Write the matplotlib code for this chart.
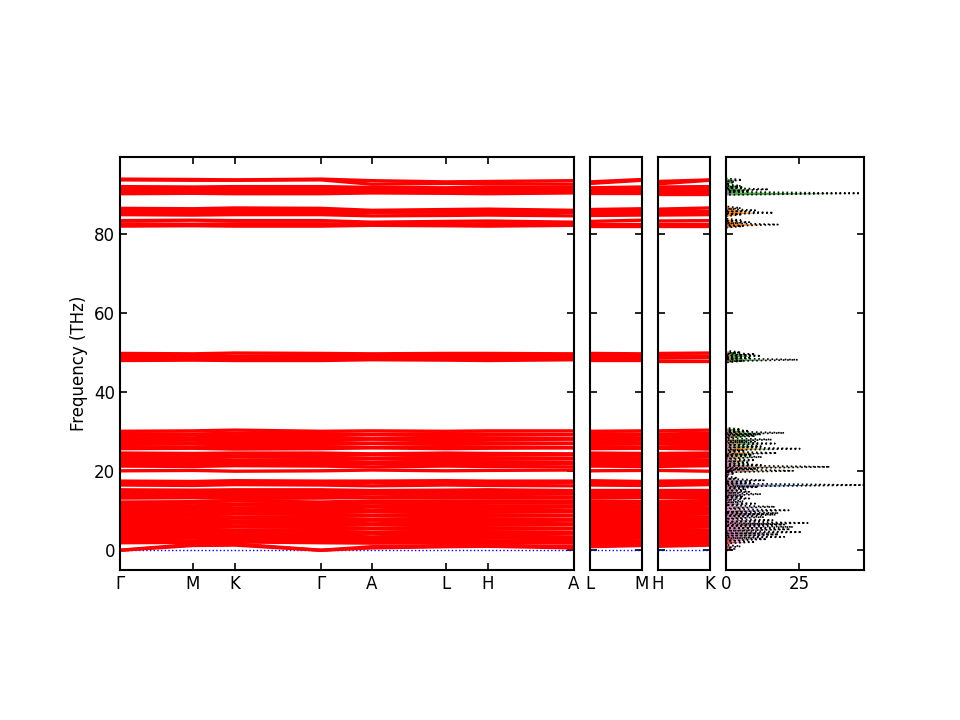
"""
Phonon band structure + projected DOS (re-drawn from picture).
"""
import matplotlib
matplotlib.use("Agg")
import matplotlib.pyplot as plt
from matplotlib.ticker import MultipleLocator

matplotlib.rcParams['font.size'] = 12

# k-path (distance along path) and labels
path1_dist = [0.0, 0.73, 1.15, 2.01, 2.52, 3.26, 3.68, 4.54]
path1_labels = ["Γ", "M", "K", "Γ", "A", "L", "H", "A"]
path2_dist = [0.0, 0.52]
path2_labels = ["L", "M"]
path3_dist = [0.0, 0.52]
path3_labels = ["H", "K"]

# each band: frequency (THz) at  Γ, M, K, A, L, H
acoustic_bands = [
    [0.0, 1.2, 1.3, 0.6, 0.9, 1.0],
    [0.0, 1.5, 1.6, 0.9, 1.2, 1.3],
]
low_bands = [
    [1.9, 2.0, 2.1, 1.8, 1.9, 2.0],
    [2.5, 2.4, 2.6, 2.3, 2.5, 2.4],
    [3.0, 3.2, 3.1, 2.9, 3.0, 3.1],
    [3.6, 3.5, 3.7, 3.4, 3.6, 3.5],
    [4.1, 4.2, 4.0, 4.3, 4.1, 4.2],
    [4.7, 4.6, 4.8, 4.5, 4.7, 4.6],
    [5.2, 5.3, 5.1, 5.4, 5.2, 5.3],
    [5.8, 5.7, 5.9, 5.6, 5.8, 5.7],
    [6.3, 6.4, 6.2, 6.5, 6.3, 6.4],
    [6.9, 6.8, 7.0, 6.7, 6.9, 6.8],
    [7.4, 7.5, 7.3, 7.6, 7.4, 7.5],
    [8.0, 7.9, 8.1, 7.8, 8.0, 7.9],
    [8.5, 8.6, 8.4, 8.7, 8.5, 8.6],
    [9.1, 9.0, 9.2, 8.9, 9.1, 9.0],
    [9.6, 9.7, 9.5, 9.8, 9.6, 9.7],
    [10.2, 10.1, 10.3, 10.0, 10.2, 10.1],
    [10.7, 10.8, 10.6, 10.9, 10.7, 10.8],
    [11.3, 11.2, 11.4, 11.1, 11.3, 11.2],
    [11.8, 11.9, 11.7, 11.9, 11.8, 11.9],
    [12.2, 12.3, 12.5, 12.5, 12.4, 12.5],
    [13.2, 13.3, 13.1, 13.4, 13.2, 13.3],
    [13.7, 13.6, 13.8, 13.5, 13.7, 13.6],
    [14.2, 14.3, 14.1, 14.4, 14.2, 14.3],
    [14.7, 14.6, 14.8, 14.5, 14.7, 14.6],
    [15.3, 15.2, 15.3, 15.1, 15.2, 15.3],
    [16.5, 16.4, 16.6, 16.3, 16.5, 16.4],
    [17.0, 17.1, 16.9, 17.2, 17.0, 17.1],
    [17.5, 17.4, 17.6, 17.5, 17.6, 17.5],
]
mid_bands = [
    [20.1, 20.2, 20.0, 20.3, 20.1, 20.2],
    [21.3, 21.2, 21.4, 21.1, 21.3, 21.2],
    [21.8, 21.9, 21.7, 22.0, 21.8, 21.9],
    [22.4, 22.3, 22.5, 22.2, 22.4, 22.3],
    [22.9, 23.0, 22.8, 23.1, 22.9, 23.0],
    [23.5, 23.4, 23.6, 23.3, 23.5, 23.4],
    [24.0, 24.1, 23.9, 24.2, 24.0, 24.1],
    [24.6, 24.5, 24.6, 24.4, 24.6, 24.5],
    [25.7, 25.8, 25.6, 25.9, 25.7, 25.8],
    [26.2, 26.1, 26.3, 26.0, 26.2, 26.1],
    [26.8, 26.9, 26.7, 27.0, 26.8, 26.9],
    [27.3, 27.2, 27.4, 27.1, 27.3, 27.2],
    [27.9, 28.0, 27.8, 28.1, 27.9, 28.0],
    [28.4, 28.3, 28.5, 28.2, 28.4, 28.3],
    [29.0, 29.1, 28.9, 29.2, 29.0, 29.1],
    [29.5, 29.4, 29.6, 29.3, 29.5, 29.4],
    [30.1, 30.2, 30.4, 30.2, 30.1, 30.2],
    [48.0, 48.1, 48.0, 48.2, 48.1, 48.0],
    [48.6, 48.5, 48.7, 48.5, 48.6, 48.6],
    [49.2, 49.3, 49.1, 49.2, 49.3, 49.2],
    [49.8, 49.7, 49.9, 49.7, 49.8, 49.8],
]
high_bands = [
    [82.0, 82.1, 82.0, 82.2, 82.1, 82.0],
    [82.6, 82.5, 82.6, 82.4, 82.5, 82.6],
    [83.4, 83.5, 83.4, 83.0, 83.2, 83.3],
    [84.9, 84.8, 84.9, 84.6, 84.7, 84.8],
    [85.4, 85.5, 85.4, 85.5, 85.5, 85.4],
    [85.9, 86.0, 85.9, 85.7, 85.8, 85.9],
    [86.5, 86.4, 86.6, 86.0, 86.2, 86.3],
    [90.2, 90.3, 90.2, 90.4, 90.3, 90.2],
    [90.8, 90.7, 90.8, 90.6, 90.8, 90.7],
    [91.4, 91.3, 91.4, 91.2, 91.1, 91.3],
    [92.0, 91.9, 92.0, 91.8, 91.7, 91.9],
    [93.7, 93.6, 93.6, 92.6, 92.8, 92.7],
    [93.9, 93.8, 93.7, 93.5, 93.2, 93.3],
]
blue_band = [0.0, 0.0, 0.0, 0.0, 0.0, 0.0]

# DOS peaks (THz) and states
dos_freq = [0.3, 1.0, 2.1, 2.8, 3.4, 4.0, 4.6, 5.3, 5.9, 6.5,
            6.9, 7.6, 8.4, 9.0, 9.4, 10.1, 11.0, 11.8, 12.4, 13.1,
            13.6, 14.2, 14.8, 15.4, 16.0, 16.5, 17.1, 17.7, 18.3, 19.4,
            20.1, 20.6, 21.1, 21.6, 22.2, 22.8, 23.6, 24.1, 24.6, 25.2,
            25.7, 26.3, 27.0, 27.5, 28.0, 28.9, 29.3, 29.7, 30.2, 30.6,
            47.9, 48.2, 48.7, 49.2, 49.6, 50.1,
            82.0, 82.4, 83.0, 83.5, 84.9, 85.4, 86.0, 86.6,
            90.3, 90.8, 91.3, 91.8, 92.2, 93.1, 93.7]
dos_total = [3, 5, 10, 14, 20, 18, 26, 22, 23, 20,
             28, 16, 13, 17, 18, 21.5, 16.8, 10, 6, 8,
             6, 12, 8, 7, 11, 48, 9, 13, 4, 3,
             23, 10, 35.6, 12, 8, 10, 12.3, 9, 17.5, 6,
             25.3, 12, 16.8, 10, 15.7, 10, 12, 20, 8, 5,
             6, 24.6, 8, 12, 10, 5,
             6, 17.8, 8, 5, 5, 16.3, 10, 5,
             46, 8, 14.6, 6, 5, 3, 5.5]
pdos_red = ([1.5, 2, 4, 3, 1, 0.5] + [0] * 24
            + [0] * 20 + [0] * 6 + [0] * 15)
pdos_pink = ([0.5, 1.5, 2, 4, 6, 6, 7, 6, 6, 5, 8, 4, 3, 4, 4,
              4, 3, 2, 1.5, 2, 1.5, 2, 1.5, 1, 2, 3, 1.5, 2, 1, 1]
             + [6, 2.5, 10, 3, 2, 1.5, 1.5, 1, 2, 0.5,
                1.5, 1, 1.5, 1, 1, 1, 1, 1, 0.5, 0]
             + [0] * 6 + [0] * 15)
pdos_brown = ([0, 0, 1, 2, 4, 3, 6, 5, 5, 5, 6, 4, 3, 4, 4,
               5, 4, 2, 1, 1.5, 1, 3, 2, 2, 2, 4, 2, 2, 1, 0.5]
              + [5, 2, 9, 2.5, 1.5, 1.5, 1.5, 1.5, 2, 0.5,
                 1.5, 1, 1.5, 1, 1.5, 1, 1, 1.5, 1, 0.5]
              + [0] * 6 + [0] * 15)
pdos_purple = ([0, 0, 0, 1, 3, 3.5, 5, 4, 5, 4, 6, 3, 3, 4, 5,
                6, 5, 3, 1.5, 2, 1.5, 3.5, 2, 2, 3, 15, 2, 4, 1, 0.5]
               + [1, 1, 1.5, 1, 1, 1, 1, 1, 1, 0.5,
                  1, 1, 1, 1, 1, 1, 1, 1, 0.5, 0.5]
               + [1, 3, 1, 1.5, 1.5, 0.5]
               + [1, 1.5, 1, 0.5, 0.5, 1.5, 1, 0.5, 3, 1, 1.5, 0.5, 0.5, 0.3, 0.5])
pdos_blue = [0] * 24 + [1, 12, 1, 1, 0, 0] + [0] * 20 + [0] * 6 + [0] * 15
pdos_orange = ([0] * 30
               + [2, 1.5, 3, 1.5, 1, 2, 3, 2, 5, 1,
                  10, 2.5, 2.5, 1.5, 2.5, 1.5, 1.5, 3, 1, 0.5]
               + [0.5, 3, 1, 1, 1, 0.5]
               + [3.5, 11, 5, 3, 3, 10, 6, 3] + [0] * 7)
pdos_green = ([0] * 26 + [0.5, 1, 0, 0]
              + [2, 1, 3, 1.5, 1, 2, 3, 2, 4, 1.5,
                 4, 4, 6, 3.5, 6, 4, 5, 8, 3, 2]
              + [3, 10, 4, 6, 5, 2.5]
              + [0] * 8 + [36, 5, 9, 4, 3, 2, 3.5])

PDOS = [
    (pdos_red, "tab:red"),
    (pdos_pink, "tab:pink"),
    (pdos_brown, "tab:brown"),
    (pdos_purple, "tab:purple"),
    (pdos_blue, "tab:blue"),
    (pdos_orange, "tab:orange"),
    (pdos_green, "tab:green"),
]

YLIM = (-5, 99.5)


def on_path1(b):
    g, m, k, a, l, h = b
    return [g, m, k, g, a, l, h, a]


def style_axis(ax, dist, labels, left_labels=False):
    ax.set_xlim(dist[0], dist[-1])
    ax.set_ylim(*YLIM)
    ax.set_xticks(dist)
    ax.set_xticklabels(labels)
    ax.yaxis.set_major_locator(MultipleLocator(20))
    ax.tick_params(direction="in", top=True, right=True, length=5, width=1.2,
                   labelleft=left_labels)
    for s in ax.spines.values():
        s.set_linewidth(1.5)


def draw_bands(ax, xs, pick):
    all_bands = acoustic_bands + low_bands + mid_bands + high_bands
    ax.plot(xs, pick(blue_band), color="blue", linestyle=":", linewidth=1)
    for b in all_bands:
        ax.plot(xs, pick(b), color="red", linewidth=2.4)


def draw_dos(ax):
    hw = 0.4
    for i, f in enumerate(dos_freq):
        ys = [f - hw, f, f + hw]
        left = 0
        for vals, color in PDOS:
            v = vals[i]
            if v <= 0:
                continue
            ax.fill_betweenx(ys, [0, left, 0], [0, left + v, 0],
                             color=color, alpha=0.9, linewidth=0)
            left += v
    tx, ty = [], []
    for f, h in zip(dos_freq, dos_total):
        ty += [f - hw, f, f + hw]
        tx += [0, h, 0]
    ax.plot(tx, ty, "k:", linewidth=1.2)
    ax.set_xlim(0, 47.3)
    ax.set_ylim(*YLIM)
    ax.set_xticks([0, 25])
    ax.yaxis.set_major_locator(MultipleLocator(20))
    ax.tick_params(direction="in", top=True, right=True, length=5, width=1.2,
                   labelleft=False)
    for s in ax.spines.values():
        s.set_linewidth(1.5)


def main():
    fig = plt.figure(figsize=(9.6, 7.2), dpi=100)
    bottom, height = 0.2083, 0.5737
    ax1 = fig.add_axes([0.125, bottom, 0.4729, height])
    ax2 = fig.add_axes([0.6146, bottom, 0.0542, height])
    ax3 = fig.add_axes([0.6854, bottom, 0.0542, height])
    ax4 = fig.add_axes([0.7563, bottom, 0.1437, height])

    draw_bands(ax1, path1_dist, on_path1)
    draw_bands(ax2, path2_dist, lambda b: [b[4], b[1]])
    draw_bands(ax3, path3_dist, lambda b: [b[5], b[2]])
    style_axis(ax1, path1_dist, path1_labels, left_labels=True)
    style_axis(ax2, path2_dist, path2_labels)
    style_axis(ax3, path3_dist, path3_labels)
    ax1.set_ylabel("Frequency (THz)")

    draw_dos(ax4)

    fig.savefig("out.png", dpi=100)
    plt.close(fig)


if __name__ == "__main__":
    main()
